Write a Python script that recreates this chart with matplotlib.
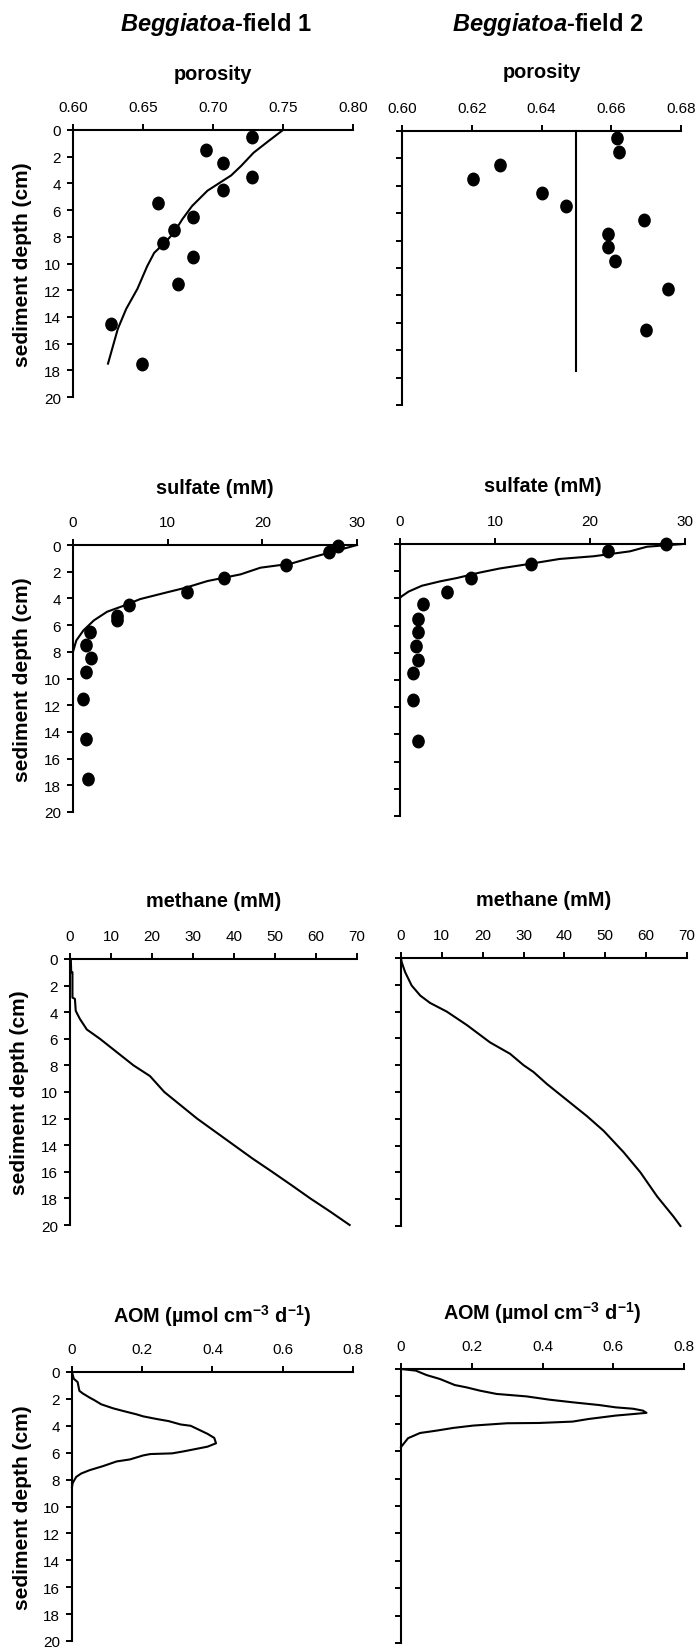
import matplotlib
matplotlib.use('Agg')
import matplotlib.pyplot as plt
from matplotlib.path import Path
from matplotlib.transforms import Affine2D

plt.rcParams['font.family'] = ['Liberation Sans', 'DejaVu Sans']
plt.rcParams['mathtext.fontset'] = 'custom'
plt.rcParams['mathtext.it'] = 'Liberation Sans:italic:bold'
plt.rcParams['mathtext.rm'] = 'Liberation Sans:bold'
plt.rcParams['mathtext.default'] = 'regular'

# ---- data (depth in cm) ----
# porosity, field 1
por1_depth = [0.5, 1.5, 2.5, 3.5, 4.5, 5.5, 6.5, 7.5, 8.5, 9.5, 11.5, 14.5, 17.5]
por1 = [0.728, 0.695, 0.707, 0.728, 0.707, 0.661, 0.686, 0.672, 0.664, 0.686, 0.675, 0.627, 0.649]
por1_fit_d = [0.0, 0.8, 1.7, 2.7, 3.4, 4.55, 5.7, 6.7, 7.7, 8.4, 9.2, 10.2, 11.9, 13.4, 14.9, 17.5]
por1_fit = [0.750, 0.740, 0.729, 0.720, 0.713, 0.696, 0.685, 0.678, 0.672, 0.666, 0.658, 0.653, 0.646, 0.638, 0.632, 0.625]

# porosity, field 2
por2_depth = [0.5, 1.5, 2.5, 3.5, 4.5, 5.5, 6.5, 7.5, 8.5, 9.5, 11.5, 14.5]
por2 = [0.6616, 0.6623, 0.628, 0.6204, 0.640, 0.647, 0.6693, 0.659, 0.659, 0.661, 0.6764, 0.670]
por2_fit_d = [0.0, 17.5]
por2_fit = [0.650, 0.650]

# sulfate (mM)
sulf1_depth = [0.1, 0.5, 1.5, 2.5, 3.5, 4.5, 5.3, 5.6, 6.5, 7.5, 8.5, 9.5, 11.5, 14.5, 17.5]
sulf1 = [28.0, 27.0, 22.5, 16.0, 12.0, 5.9, 4.6, 4.7, 1.8, 1.4, 1.9, 1.4, 1.1, 1.4, 1.6]
sulf1_fit_d = [0.0, 0.55, 0.9, 1.4, 1.7, 2.2, 2.7, 3.2, 3.55, 4.05, 4.55, 5.0, 5.65, 6.4, 7.15, 8.0]
sulf1_fit = [30.0, 27.2, 25.4, 23.0, 19.8, 17.7, 14.2, 11.9, 9.9, 7.1, 5.35, 3.6, 2.2, 1.1, 0.35, 0.0]

sulf2_depth = [0.0, 0.5, 1.5, 2.5, 3.5, 4.4, 5.5, 6.5, 7.5, 8.5, 9.5, 11.5, 14.5]
sulf2 = [28.0, 21.9, 13.75, 7.5, 4.9, 2.45, 1.86, 1.86, 1.68, 1.86, 1.4, 1.4, 1.86]
sulf2_fit_d = [0.0, 0.2, 0.54, 0.9, 1.1, 1.5, 1.8, 2.1, 2.5, 2.75, 3.07, 3.5, 3.9, 4.0]
sulf2_fit = [29.8, 26.0, 24.2, 20.4, 16.8, 13.3, 10.5, 8.4, 6.0, 4.2, 2.3, 0.9, 0.07, 0.0]

# methane (mM)
meth1_d = [0.0, 1.0, 1.0, 2.9, 3.0, 3.9, 4.5, 5.3, 6.0, 7.0, 8.0, 8.8, 10.0, 11.0, 12.0,
           13.0, 14.0, 15.0, 16.0, 17.0, 18.0, 19.0, 20.0]
meth1 = [0.2, 0.3, 0.6, 0.6, 1.2, 1.4, 2.4, 4.1, 7.3, 11.4, 15.5, 19.5, 23.0, 27.0, 31.0,
         35.5, 40.0, 44.5, 49.3, 54.0, 58.6, 63.5, 68.2]
meth2_d = [0.0, 0.3, 1.05, 2.05, 2.8, 3.35, 4.0, 5.0, 6.3, 7.15, 8.0, 8.5, 9.4, 10.6,
           11.8, 12.9, 14.5, 16.0, 17.8, 19.3, 20.0]
meth2 = [0.0, 0.16, 1.0, 2.6, 4.7, 7.1, 11.2, 16.1, 21.8, 26.7, 30.0, 32.4, 35.7, 40.6,
         45.5, 49.6, 54.5, 58.6, 62.7, 66.7, 68.4]

# AOM rate (umol cm-3 d-1)
aom1_d = [0.0, 0.5, 0.75, 1.4, 1.6, 1.9, 2.1, 2.4, 2.7, 2.9, 3.15, 3.3, 3.5, 3.65, 3.9, 4.0,
          4.3, 4.6, 4.9, 5.3, 5.55, 5.7, 5.9, 6.05, 6.1, 6.2, 6.5, 6.65, 7.0, 7.3, 7.55,
          7.8, 8.25, 8.55]
aom1 = [0.0, 0.005, 0.016, 0.021, 0.031, 0.05, 0.064, 0.083, 0.117, 0.146, 0.184, 0.203,
        0.242, 0.275, 0.309, 0.338, 0.362, 0.386, 0.405, 0.41, 0.386, 0.357, 0.318, 0.285,
        0.223, 0.203, 0.165, 0.127, 0.088, 0.05, 0.026, 0.012, 0.002, 0.0]
aom2_d = [0.0, 0.12, 0.44, 0.73, 1.17, 1.34, 1.58, 1.82, 2.0, 2.24, 2.43, 2.63, 2.8, 2.9,
          3.04, 3.2, 3.28, 3.4, 3.65, 3.84, 3.94, 3.96, 4.13, 4.3, 4.5, 4.67, 5.05, 5.47, 5.7]
aom2 = [0.0, 0.042, 0.072, 0.11, 0.152, 0.185, 0.223, 0.27, 0.355, 0.42, 0.485, 0.56, 0.607,
        0.656, 0.684, 0.694, 0.66, 0.607, 0.53, 0.485, 0.39, 0.3, 0.204, 0.148, 0.1, 0.054,
        0.02, 0.007, 0.0]

depth_ticks = list(range(0, 21, 2))

W, H = 699, 1649
fig = plt.figure(figsize=(W / 100, H / 100), dpi=100)

# slightly tall ellipse as marker, like the scanned dots
dot = Path.unit_circle().transformed(Affine2D().scale(0.9, 1.0))


def make_axes(x0, y0, x1, y1, xlim, xticks, xlabels, label, lab_off, left_labels):
    ax = fig.add_axes([x0 / W, 1 - y1 / H, (x1 - x0) / W, (y1 - y0) / H])
    ax.set_xlim(*xlim)
    ax.set_ylim(20, 0)
    for s in ['right', 'bottom']:
        ax.spines[s].set_visible(False)
    for s in ['top', 'left']:
        ax.spines[s].set_linewidth(1.5)
    ax.xaxis.tick_top()
    ax.set_xticks(xticks)
    ax.set_xticklabels(xlabels)
    ax.set_yticks(depth_ticks)
    ax.tick_params(axis='both', direction='out', length=4.3, width=1.4, labelsize=11)
    ax.tick_params(axis='x', pad=7.2)
    ax.tick_params(axis='y', pad=4.2)
    if left_labels:
        ax.text(-50 / (x1 - x0), 0.5, 'sediment depth (cm)', transform=ax.transAxes,
                rotation=90, ha='center', va='center', fontsize=15, fontweight='bold')
    else:
        ax.tick_params(axis='y', labelleft=False)
    ax.annotate(label, xy=(0.5, 1), xycoords='axes fraction', xytext=(0, lab_off),
                textcoords='offset pixels', ha='center', va='center',
                fontsize=14.3, fontweight='bold')
    return ax


kw_line = dict(color='black', lw=1.5, clip_on=False)
kw_dot = dict(color='black', marker=dot, markersize=9, linestyle='none', clip_on=False)

por_ticks1 = [0.60, 0.65, 0.70, 0.75, 0.80]
por_ticks2 = [0.60, 0.62, 0.64, 0.66, 0.68]
sulf_ticks = [0, 10, 20, 30]
meth_ticks = [0, 10, 20, 30, 40, 50, 60, 70]
aom_ticks = [0, 0.2, 0.4, 0.6, 0.8]

# row 1: porosity
ax = make_axes(73, 131, 353, 398, (0.60, 0.80), por_ticks1,
               ['%.2f' % v for v in por_ticks1], 'porosity', 57, True)
ax.plot(por1_fit, por1_fit_d, **kw_line)
ax.plot(por1, por1_depth, **kw_dot)

ax = make_axes(402, 132, 681, 406, (0.60, 0.68), por_ticks2,
               ['%.2f' % v for v in por_ticks2], 'porosity', 59, False)
ax.plot(por2_fit, por2_fit_d, **kw_line)
ax.plot(por2, por2_depth, **kw_dot)

# row 2: sulfate
ax = make_axes(73, 546, 357, 813, (0, 30), sulf_ticks,
               [str(v) for v in sulf_ticks], 'sulfate (mM)', 58, True)
ax.plot(sulf1_fit, sulf1_fit_d, **kw_line)
ax.plot(sulf1, sulf1_depth, **kw_dot)

ax = make_axes(400, 545, 685, 817, (0, 30), sulf_ticks,
               [str(v) for v in sulf_ticks], 'sulfate (mM)', 58, False)
ax.plot(sulf2_fit, sulf2_fit_d, **kw_line)
ax.plot(sulf2, sulf2_depth, **kw_dot)

# row 3: methane
ax = make_axes(70, 960, 357, 1226, (0, 70), meth_ticks,
               [str(v) for v in meth_ticks], 'methane (mM)', 58, True)
ax.plot(meth1, meth1_d, **kw_line)

ax = make_axes(401, 959, 687, 1227, (0, 70), meth_ticks,
               [str(v) for v in meth_ticks], 'methane (mM)', 58, False)
ax.plot(meth2, meth2_d, **kw_line)

# row 4: AOM
aom_lab = 'AOM (µmol cm$^{-3}$ d$^{-1}$)'
ax = make_axes(72, 1373, 353, 1642, (0, 0.8), aom_ticks,
               ['0', '0.2', '0.4', '0.6', '0.8'], aom_lab, 57, True)
ax.plot(aom1, aom1_d, **kw_line)

ax = make_axes(401, 1370, 684, 1644, (0, 0.8), aom_ticks,
               ['0', '0.2', '0.4', '0.6', '0.8'], aom_lab, 57, False)
ax.plot(aom2, aom2_d, **kw_line)

# column titles
fig.text(216 / W, 1 - 24 / H, r'$\mathit{Beggiatoa}$-field 1', ha='center', va='center',
         fontsize=17, fontweight='bold')
fig.text(548 / W, 1 - 24 / H, r'$\mathit{Beggiatoa}$-field 2', ha='center', va='center',
         fontsize=17, fontweight='bold')

fig.savefig('out.png', dpi=100)
